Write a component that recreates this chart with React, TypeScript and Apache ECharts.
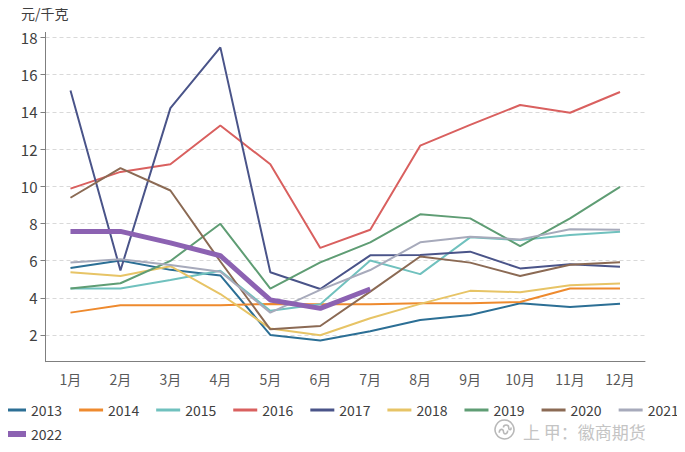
import React, { useEffect, useRef } from "react";
import * as echarts from "echarts";

const months = ["1月", "2月", "3月", "4月", "5月", "6月", "7月", "8月", "9月", "10月", "11月", "12月"];
const yTicks = [2, 4, 6, 8, 10, 12, 14, 16, 18];

const y2013 = [5.6, 6.0, 5.5, 5.2, 2.0, 1.7, 2.2, 2.8, 3.07, 3.7, 3.5, 3.68];
const y2014 = [3.2, 3.6, 3.6, 3.6, 3.67, 3.65, 3.65, 3.7, 3.7, 3.77, 4.5, 4.5];
const y2015 = [4.5, 4.5, 4.96, 5.45, 3.3, 3.65, 6.0, 5.27, 7.25, 7.1, 7.37, 7.55];
const y2016 = [9.87, 10.77, 11.18, 13.27, 11.18, 6.68, 7.66, 12.18, 13.3, 14.37, 13.95, 15.07];
const y2017 = [15.15, 5.47, 14.2, 17.47, 5.37, 4.47, 6.28, 6.3, 6.48, 5.58, 5.8, 5.67];
const y2018 = [5.37, 5.17, 5.7, 4.2, 2.35, 1.98, 2.9, 3.67, 4.37, 4.3, 4.67, 4.76];
const y2019 = [4.5, 4.78, 5.98, 7.98, 4.49, 5.9, 6.98, 8.49, 8.27, 6.78, 8.27, 9.96];
const y2020 = [9.38, 10.97, 9.77, 5.95, 2.3, 2.48, 4.33, 6.22, 5.89, 5.17, 5.78, 5.91];
const y2021 = [5.89, 6.07, 5.76, 5.4, 3.2, 4.42, 5.49, 6.98, 7.28, 7.14, 7.68, 7.66];
const y2022 = [7.57, 7.57, 6.95, 6.26, 3.88, 3.43, 4.47];

const years = ["2013", "2014", "2015", "2016", "2017", "2018", "2019", "2020", "2021", "2022"];
const values = [y2013, y2014, y2015, y2016, y2017, y2018, y2019, y2020, y2021, y2022];
const colors = ["#2c6f95", "#ee8a2e", "#70c1be", "#d9605f", "#4a5489", "#e7c466", "#5f9d74", "#8b6a54", "#a7aabb", "#8c62b2"];

const FONT = "'Noto Sans CJK SC', 'Noto Sans', sans-serif";

echarts.graphic.registerShape(
  "wmlogo",
  echarts.graphic.extendPath(
    "M10 1 A9 9 0 1 0 10.01 1 Z M5 13 C5 9 9 9 9 12 C9 15 13 15 13 11 M9 8 C9 5 14 5 14 8 C14 11 17 11 16 8",
    {}
  )
);

export default function App() {
  const ref = useRef<HTMLDivElement>(null);
  useEffect(() => {
    const chart = echarts.init(ref.current!, null, { renderer: "svg" });
    const series = years.map((y, i) => ({
      name: y,
      type: "line",
      data: values[i],
      showSymbol: false,
      symbol: "none",
      z: i === 9 ? 5 : 2,
      lineStyle: { color: colors[i], width: i === 9 ? 5 : 2 },
      itemStyle: { color: colors[i] },
    }));
    chart.setOption({
      animation: false,
      textStyle: { fontFamily: FONT },
      grid: { left: 45.5, right: 40, top: 37.5, bottom: 90.3, containLabel: false },
      xAxis: {
        type: "category",
        data: months,
        boundaryGap: true,
        axisLine: { lineStyle: { color: "#7f7f7f", width: 1 } },
        axisTick: { alignWithLabel: true, length: 8, lineStyle: { color: "#7f7f7f" } },
        axisLabel: { color: "#595959", fontSize: 14, margin: 10, fontFamily: FONT },
        splitLine: { show: false },
      },
      yAxis: {
        type: "value",
        min: 0.56,
        max: 18,
        axisLine: { show: true, lineStyle: { color: "#7f7f7f", width: 1 } },
        axisTick: { show: true, length: 5, customValues: yTicks, lineStyle: { color: "#7f7f7f" } },
        axisLabel: {
          color: "#404040",
          fontSize: 15,
          margin: 8,
          customValues: yTicks,
          fontFamily: FONT,
        },
        splitLine: {
          show: true,
          lineStyle: { color: "#d9d9d9", type: [4, 3], width: 1 },
        },
      },
      legend: [
        {
          data: years.slice(0, 9),
          left: 2,
          top: 403,
          padding: 0,
          width: 685,
          icon: "rect",
          itemWidth: 24,
          itemHeight: 3,
          itemGap: 17,
          textStyle: { color: "#404040", fontSize: 14, lineHeight: 14, fontFamily: FONT },
        },
        {
          data: ["2022"],
          left: 2,
          top: 427,
          padding: 0,
          icon: "rect",
          itemWidth: 24,
          itemHeight: 6,
          textStyle: { color: "#404040", fontSize: 14, lineHeight: 14, fontFamily: FONT },
        },
      ],
      graphic: [
        {
          type: "text",
          left: 21,
          top: 6,
          style: { text: "元/千克", fill: "#404040", font: `14px ${FONT}` },
        },
        {
          type: "line",
          shape: { x1: 45.5, y1: 32, x2: 45.5, y2: 37.5 },
          style: { stroke: "#7f7f7f", lineWidth: 1 },
        },
        {
          type: "wmlogo",
          x: 494,
          y: 419,
          scaleX: 1.05,
          scaleY: 1.05,
          style: { fill: "none", stroke: "#b8b8b8", lineWidth: 1.5 },
        },
        {
          type: "text",
          x: 523,
          y: 423,
          style: { text: "上 甲：徽商期货", fill: "#c4c4c4", font: `17px ${FONT}`, lineHeight: 17 },
        },
      ],
      series,
    });
    return () => chart.dispose();
  }, []);
  return <div ref={ref} style={{ width: 685, height: 452, margin: -8 }} />;
}
